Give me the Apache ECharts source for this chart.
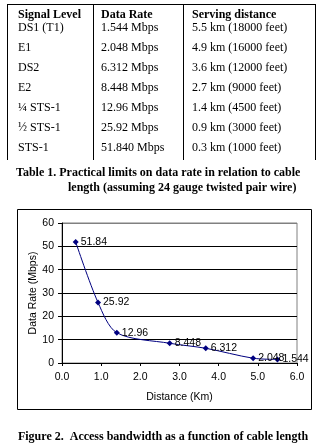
<!DOCTYPE html>
<html>
<head>
<meta charset="utf-8">
<script src="https://cdn.jsdelivr.net/npm/echarts@6/dist/echarts.min.js"></script>
<style>
html,body{margin:0;padding:0;background:#fff;}
#c{width:329px;height:443px;}
</style>
</head>
<body>
<div id="c"></div>
<script>
// ---- Table data ----
var tableHeaders = ['Signal Level', 'Data Rate', 'Serving distance'];
var signalLevels = ['DS1 (T1)', 'E1', 'DS2', 'E2', '\u00BC STS-1', '\u00BD STS-1', 'STS-1'];
var dataRates = ['1.544 Mbps', '2.048 Mbps', '6.312 Mbps', '8.448 Mbps', '12.96 Mbps', '25.92 Mbps', '51.840 Mbps'];
var servingDistances = ['5.5 km (18000 feet)', '4.9 km (16000 feet)', '3.6 km (12000 feet)', '2.7 km (9000 feet)', '1.4 km (4500 feet)', '0.9 km (3000 feet)', '0.3 km (1000 feet)'];
var tableCaption = ['Table 1. Practical limits on data rate in relation to cable', 'length (assuming 24 gauge twisted pair wire)'];

// ---- Chart data ----
var distanceKm = [0.35, 0.92, 1.4, 2.75, 3.67, 4.88, 5.5];
var rateMbps = [51.84, 25.92, 12.96, 8.448, 6.312, 2.048, 1.544];
var xTicks = [0, 1, 2, 3, 4, 5, 6];
var yTicks = [0, 10, 20, 30, 40, 50, 60];
var xTitle = 'Distance (Km)';
var yTitle = 'Data Rate (Mbps)';
var figureCaption = 'Figure 2.  Access bandwidth as a function of cable length';

var serif = '"Liberation Serif", "Times New Roman", serif';
var sans = '"Liberation Sans", Arial, sans-serif';

var graphics = [];
function line(x1, y1, x2, y2, color) {
  graphics.push({type: 'line', shape: {x1: x1, y1: y1, x2: x2, y2: y2}, style: {stroke: color || '#000', lineWidth: 1}, silent: true});
}
line(7, 4.5, 315, 4.5);
[7.5, 93.5, 183.5, 315.5].forEach(function (x) { line(x, 4, x, 160); });
var colX = [18, 101, 192];
function text(x, y, s, font, align) {
  graphics.push({type: 'text', x: x, y: y, style: {text: s, font: font, fill: '#000', textAlign: align || 'left', textVerticalAlign: 'middle'}, silent: true});
}
tableHeaders.forEach(function (h, i) { text(colX[i], 15, h, 'bold 12px ' + serif); });
for (var r = 0; r < signalLevels.length; r++) {
  var y = 28 + r * 19.9;
  text(colX[0], y, signalLevels[r], '12px ' + serif);
  text(colX[1], y, dataRates[r], '12px ' + serif);
  text(colX[2], y, servingDistances[r], '12px ' + serif);
}
text(16, 173, tableCaption[0], 'bold 12px ' + serif);
text(68, 188, tableCaption[1], 'bold 12px ' + serif);
graphics.push({type: 'rect', shape: {x: 17.5, y: 209.5, width: 294, height: 200}, style: {fill: 'none', stroke: '#000', lineWidth: 1}, silent: true, z: -1});
text(163, 437, figureCaption, 'bold 12px ' + serif, 'center');

var points = distanceKm.map(function (d, i) { return [d, rateMbps[i]]; });

var chart = echarts.init(document.getElementById('c'), null, {renderer: 'canvas'});
chart.setOption({
  backgroundColor: '#fff',
  animation: false,
  graphic: graphics,
  grid: {left: 62, top: 223, right: 32, bottom: 80, show: true, borderColor: '#808080', borderWidth: 1, backgroundColor: 'transparent'},
  xAxis: {
    type: 'value', min: xTicks[0], max: xTicks[xTicks.length - 1], interval: 1,
    name: xTitle, nameLocation: 'middle', nameGap: 29, nameMoveOverlap: false,
    nameTextStyle: {fontFamily: sans, fontSize: 10.5, color: '#000'},
    axisLine: {show: true, lineStyle: {color: '#000', width: 1}},
    axisTick: {show: true, length: 3, inside: false, lineStyle: {color: '#000'}},
    axisLabel: {fontFamily: sans, fontSize: 10.5, color: '#000', margin: 9, formatter: function (v) { return v.toFixed(1); }},
    splitLine: {show: false}
  },
  yAxis: {
    type: 'value', min: yTicks[0], max: yTicks[yTicks.length - 1], interval: 10,
    name: yTitle, nameLocation: 'middle', nameGap: 23, nameRotate: 90, nameMoveOverlap: false,
    nameTextStyle: {fontFamily: sans, fontSize: 10.5, color: '#000'},
    axisLine: {show: true, lineStyle: {color: '#000', width: 1}},
    axisTick: {show: true, length: 4, inside: false, lineStyle: {color: '#000'}},
    axisLabel: {fontFamily: sans, fontSize: 10.5, color: '#000', margin: 8},
    splitLine: {show: true, lineStyle: {color: ['#000', '#000', '#000', '#000', '#000', '#000', '#808080'], width: 1}}
  },
  series: [{
    type: 'line',
    data: points,
    smooth: 0.3,
    symbol: 'diamond',
    symbolSize: 6,
    itemStyle: {color: '#000080'},
    lineStyle: {color: '#000080', width: 1},
    label: {show: true, position: 'right', distance: 2, fontFamily: sans, fontSize: 10.5, color: '#000',
      formatter: function (p) { return String(p.value[1]); }}
  }]
});
</script>
</body>
</html>
